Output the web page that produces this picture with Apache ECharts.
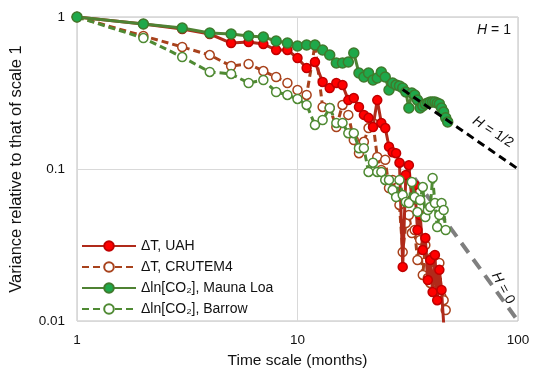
<!DOCTYPE html>
<html><head><meta charset="utf-8">
<script src="https://cdn.jsdelivr.net/npm/echarts@6/dist/echarts.min.js"></script>
<style>html,body{margin:0;padding:0;background:#fff}#c{width:550px;height:383px}</style>
</head><body><div id="c"></div>
<script>
// Time scale (months)
const months = [1,2,3,4,5,6,7,8,9,10,11,12,13,14,15,16,17,18,19,20,21,22,23,24,25,26,27,28,29,30,31,32,33,34,35,36,37,38,39,40,41,42,43,44,45,46,47,48];
// Variance relative to scale 1
const uah = [1,0.899,0.834,0.773,0.674,0.685,0.664,0.607,0.607,0.537,0.462,0.506,0.374,0.341,0.368,0.357,0.284,0.293,0.256,0.227,0.217,0.189,0.284,0.201,0.186,0.140,0.129,0.127,0.110,0.0227,0.0913,0.106,0.0625,0.0785,0.0397,0.0498,0.0293,0.0352,0.0186,0.0252,0.0155,0.0272,0.0137,0.0217,0.0160,0.0097,0.0081];
const crutem4 = [1,0.750,0.635,0.562,0.476,0.491,0.441,0.403,0.368,0.331,0.307,0.654,0.256,0.252,0.189,0.264,0.227,0.155,0.127,0.151,0.186,0.201,0.120,0.0985,0.115,0.0750,0.0847,0.0674,0.0580,0.0284,0.0441,0.0498,0.0379,0.0397,0.0252,0.0341,0.0201,0.0316,0.0192,0.0178,0.0264,0.0217,0.0160,0.0241,0.0144,0.0137,0.0118];
const maunaLoa = [1,0.899,0.847,0.785,0.773,0.750,0.739,0.695,0.674,0.645,0.654,0.654,0.607,0.562,0.498,0.498,0.506,0.580,0.428,0.403,0.428,0.385,0.397,0.435,0.403,0.331,0.368,0.357,0.352,0.341,0.321,0.252,0.316,0.307,0.284,0.252,0.260,0.268,0.272,0.276,0.276,0.276,0.272,0.268,0.252,0.237,0.217,0.204];
const barrow = [1,0.727,0.545,0.435,0.422,0.368,0.385,0.321,0.307,0.289,0.264,0.195,0.210,0.252,0.201,0.201,0.172,0.172,0.137,0.137,0.0956,0.110,0.0956,0.0956,0.0847,0.0847,0.0727,0.0654,0.0847,0.0674,0.0607,0.0597,0.0821,0.0654,0.0521,0.0625,0.0761,0.0483,0.0537,0.0562,0.0873,0.0597,0.0415,0.0498,0.0597,0.0537,0.0397];
// Reference scaling lines
const hHalfT = [30, 100], hHalfV = [0.333, 0.1];
const hZeroT = [30, 100], hZeroV = [0.111, 0.01];
// Axis ticks
const xTicks = [1, 10, 100];
const yTicks = [0.01, 0.1, 1];
const names = ['ΔT, UAH', 'ΔT, CRUTEM4', 'Δln[CO₂], Mauna Loa', 'Δln[CO₂], Barrow'];

const pairs = (t, v) => v.map((y, i) => [t[i], y]);
const FONT = "'Liberation Sans', 'DejaVu Sans', sans-serif";

function mk(name, data, line, fill, border, dashed, z, size) {
  return {
    name, type: 'line', data: pairs(months, data), z,
    symbol: 'circle', symbolSize: size,
    lineStyle: { color: line, width: 3, type: dashed ? [7, 4] : 'solid' },
    itemStyle: { color: fill, borderColor: border, borderWidth: 1.5 },
    emphasis: { disabled: true }, animation: false
  };
}

const chart = echarts.init(document.getElementById('c'), null, { renderer: 'canvas' });
chart.setOption({
  animation: false,
  textStyle: { fontFamily: FONT },
  grid: { left: 76, right: 32, top: 17, bottom: 62, show: true, borderColor: '#bfbfbf', borderWidth: 1 },
  legend: {
    data: names, orient: 'vertical', left: 76, top: 234,
    itemWidth: 54, itemHeight: 12, itemGap: 7,
    textStyle: { fontSize: 14, color: '#111', fontFamily: FONT }
  },
  xAxis: {
    type: 'log', logBase: 10, min: xTicks[0], max: xTicks[2],
    name: 'Time scale (months)', nameLocation: 'middle', nameGap: 32,
    nameTextStyle: { fontSize: 15.5, color: '#111' },
    axisLine: { show: false }, axisTick: { show: false },
    axisLabel: { fontSize: 13.5, color: '#111', margin: 12, formatter: v => String(Number(v.toPrecision(3))) },
    splitLine: { show: true, lineStyle: { color: '#d9d9d9', width: 1 } }
  },
  yAxis: {
    type: 'log', logBase: 10, min: yTicks[0], max: yTicks[2],
    name: 'Variance relative to that of scale 1', nameLocation: 'middle', nameGap: 52,
    nameTextStyle: { fontSize: 16.5, color: '#111' },
    axisLine: { show: false }, axisTick: { show: false },
    axisLabel: { fontSize: 13.5, color: '#111', margin: 12, formatter: v => String(Number(v.toPrecision(3))) },
    splitLine: { show: true, lineStyle: { color: '#d9d9d9', width: 1 } }
  },
  series: [
    mk(names[0], uah, '#b02a1a', '#ff0000', '#c00000', false, 4, 9),
    mk(names[1], crutem4, '#a8421c', '#ffffff', '#a8421c', true, 3, 9),
    mk(names[2], maunaLoa, '#4f8233', '#1fa84a', '#3f7a2c', false, 6, 10),
    mk(names[3], barrow, '#4f8a33', '#ffffff', '#4f8a33', true, 5, 9),
    { type: 'line', data: pairs(hHalfT, hHalfV), symbol: 'none', silent: true, z: 7,
      lineStyle: { color: '#000', width: 3, type: [8, 5] } },
    { type: 'line', data: pairs(hZeroT, hZeroV), symbol: 'none', silent: true, z: 2,
      lineStyle: { color: '#7f7f7f', width: 4, type: [12, 8] } }
  ],
  graphic: [
    { type: 'text', x: 494, y: 30, style: { text: '{i|H} = 1', font: '14px ' + FONT, fill: '#111', align: 'center', verticalAlign: 'middle',
      rich: { i: { fontStyle: 'italic', fontSize: 14, fontFamily: FONT } } } },
    { type: 'text', x: 493, y: 132, rotation: -33 * Math.PI / 180, style: { text: '{i|H} = 1/2', font: '14px ' + FONT, fill: '#111', align: 'center', verticalAlign: 'middle',
      rich: { i: { fontStyle: 'italic', fontSize: 14, fontFamily: FONT } } } },
    { type: 'text', x: 503, y: 288, rotation: -62 * Math.PI / 180, style: { text: '{i|H} = 0', font: '14px ' + FONT, fill: '#111', align: 'center', verticalAlign: 'middle',
      rich: { i: { fontStyle: 'italic', fontSize: 14, fontFamily: FONT } } } }
  ]
});
</script>
</body></html>
